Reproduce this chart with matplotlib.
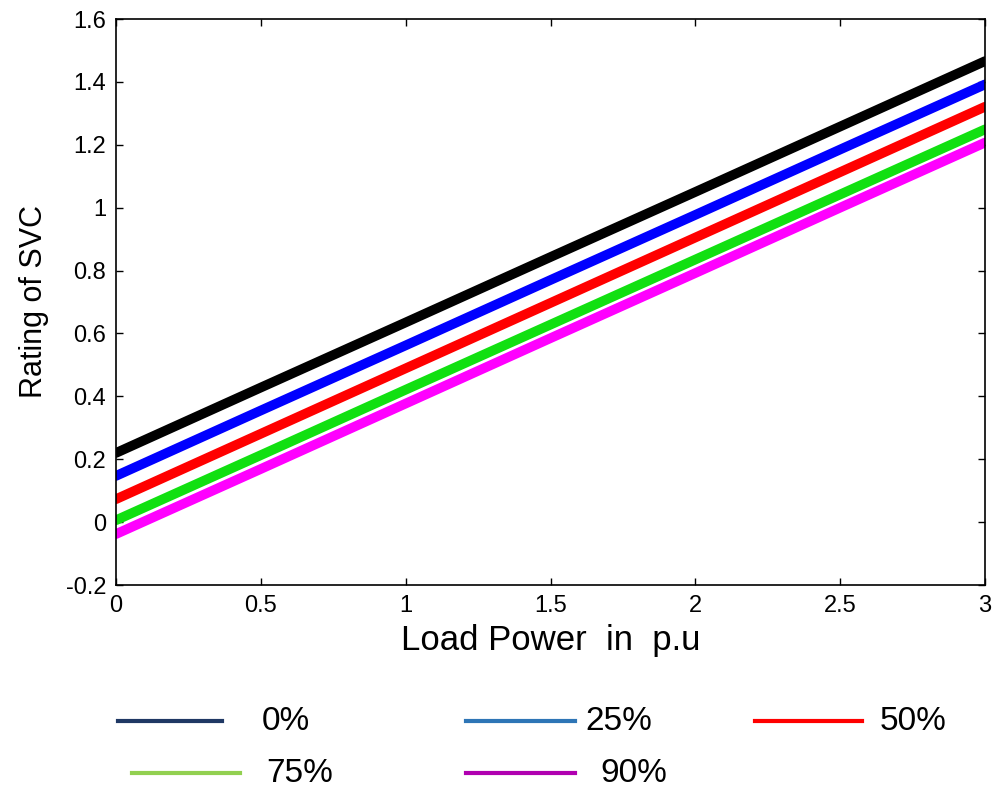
import matplotlib
matplotlib.use("Agg")
import matplotlib.pyplot as plt
from matplotlib.lines import Line2D
from matplotlib.ticker import FuncFormatter

# Data (rating of SVC vs load power)
load_power = [0.0, 0.5, 1.0, 1.5, 2.0, 2.5, 3.0]
rating_0 = [0.220, 0.428, 0.635, 0.843, 1.050, 1.258, 1.466]
rating_25 = [0.147, 0.355, 0.562, 0.770, 0.977, 1.185, 1.392]
rating_50 = [0.073, 0.281, 0.489, 0.697, 0.905, 1.113, 1.321]
rating_75 = [0.006, 0.213, 0.421, 0.628, 0.835, 1.042, 1.249]
rating_90 = [-0.038, 0.169, 0.377, 0.585, 0.792, 1.000, 1.207]
labels = ["0%", "25%", "50%", "75%", "90%"]
x_ticks = [0, 0.5, 1, 1.5, 2, 2.5, 3]
y_ticks = [-0.2, 0, 0.2, 0.4, 0.6, 0.8, 1.0, 1.2, 1.4, 1.6]

series = [rating_0, rating_25, rating_50, rating_75, rating_90]
plot_colors = ["#000000", "#0000ff", "#ff0000", "#11e011", "#ff00ff"]
legend_colors = ["#1f3864", "#2e75b6", "#ff0000", "#92d050", "#b000b0"]

plt.rcParams["font.family"] = ["Liberation Sans", "DejaVu Sans"]

fig = plt.figure(figsize=(9.93, 7.87), dpi=100)
fig.patch.set_facecolor("white")
ax = fig.add_axes([116 / 993, 1 - 585 / 787, 869 / 993, 566 / 787])

for vals, col in zip(series, plot_colors):
    ax.plot(load_power, vals, color=col, linewidth=7, solid_capstyle="round")

ax.set_xlim(0, 3)
ax.set_ylim(-0.2, 1.6)
ax.set_xticks(x_ticks)
ax.set_yticks(y_ticks)
fmt = FuncFormatter(lambda v, p: "%g" % round(v, 2))
ax.xaxis.set_major_formatter(fmt)
ax.yaxis.set_major_formatter(fmt)
ax.tick_params(direction="in", length=5, width=1, labelsize=17, pad=7,
               top=True, right=True)
for s in ax.spines.values():
    s.set_linewidth(1.2)

ax.set_xlabel("Load Power  in  p.u", fontsize=25, labelpad=5)
ax.set_ylabel("Rating of SVC", fontsize=22, labelpad=12)

# Legend drawn below the plot, like the pasted legend in the reference
leg_pos = [  # (line x0, line x1, line y, text x) in pixels
    (118, 222, 721, 262),
    (466, 575, 721, 585),
    (755, 862, 721, 880),
    (132, 240, 773, 266),
    (466, 575, 773, 600),
]
for lab, col, (x0, x1, yy, tx) in zip(labels, legend_colors, leg_pos):
    fy = 1 - yy / 787
    fig.add_artist(Line2D([x0 / 993, x1 / 993], [fy, fy], color=col,
                          linewidth=3, transform=fig.transFigure))
    fig.text(tx / 993, fy, lab, fontsize=24, ha="left", va="center")

fig.savefig("out.png", dpi=100)
